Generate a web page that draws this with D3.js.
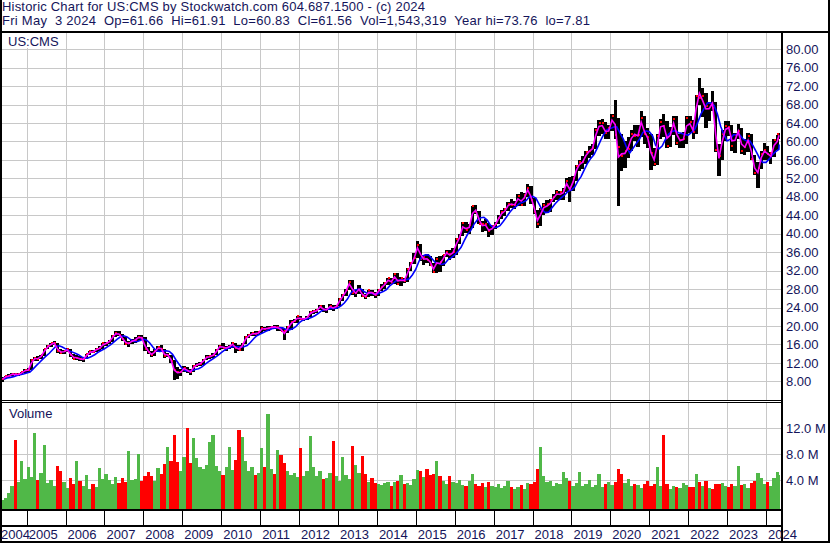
<!DOCTYPE html>
<html>
<head>
<meta charset="utf-8">
<script src="https://cdn.jsdelivr.net/npm/d3@7"></script>
<style>
  html, body { margin: 0; padding: 0; background: #fff; }
  svg { display: block; font-family: Arial, "Liberation Sans", sans-serif; }
</style>
</head>
<body>
<svg id="chart" width="830" height="543"></svg>
<script>
'use strict'

const titleLine = 'Historic Chart for US:CMS by Stockwatch.com 604.687.1500 - (c) 2024'
const infoLine = 'Fri May  3 2024  Op=61.66  Hi=61.91  Lo=60.83  Cl=61.56  Vol=1,543,319  Year hi=73.76  lo=7.81'
const symbol = 'US:CMS'

const priceTicks = [8, 12, 16, 20, 24, 28, 32, 36, 40, 44, 48, 52, 56, 60, 64, 68, 72, 76, 80]
const volumeTicks = [4, 8, 12] // millions
const yearLabels = d3.range(2004, 2025)

const firstDay = new Date(2004, 4, 3)
const lastDay = new Date(2024, 4, 3)

// monthly bars, May 2004 .. May 2024
const highs = [
  9.0, 9.2, 9.5, 9.8, 9.8, 9.7, 10.1, 10.6,
  10.8, 12.9, 13.3, 13.4, 13.8, 15.1, 15.8, 16.4, 16.7, 16.4, 15.0, 14.8,
  15.2, 15.0, 13.9, 13.6, 13.4, 13.2, 14.0, 14.6, 14.8, 15.2, 15.6, 16.4,
  16.6, 17.0, 18.0, 18.8, 19.0, 18.2, 17.5, 16.8, 17.2, 17.5, 18.0, 18.1,
  17.5, 15.4, 14.6, 14.9, 15.7, 15.8, 15.0, 14.2, 13.8, 12.6, 11.0, 10.6,
  11.3, 11.2, 10.6, 11.6, 12.0, 12.2, 12.9, 13.6, 13.7, 14.2, 14.9, 15.9,
  16.2, 15.7, 15.9, 16.6, 16.4, 15.8, 16.3, 17.8, 18.3, 18.6, 18.8, 18.8,
  19.9, 19.8, 19.9, 20.0, 20.3, 20.1, 19.8, 19.4, 20.0, 21.3, 21.6, 22.2,
  22.1, 21.8, 22.1, 23.2, 23.4, 23.6, 24.6, 24.5, 23.9, 24.8, 24.5, 24.6,
  26.0, 27.0, 28.0, 29.9, 29.9, 27.8, 28.9, 28.0, 27.0, 27.9, 27.9, 27.4,
  28.1, 29.0, 29.6, 30.5, 30.4, 31.5, 31.4, 30.6, 30.5, 32.6, 33.9, 35.9,
  38.5, 37.8, 35.3, 35.7, 35.2, 33.6, 35.0, 35.1, 35.4, 36.5, 36.4, 36.8,
  39.1, 40.0, 42.5, 42.5, 42.2, 45.9, 46.2, 44.9, 42.8, 43.1, 42.3, 41.8,
  42.6, 44.1, 45.2, 45.5, 46.9, 47.6, 47.1, 48.5, 49.0, 48.9, 50.7, 50.3,
  47.7, 45.2, 45.5, 46.6, 47.2, 47.6, 48.5, 49.5, 49.3, 49.8, 52.1, 52.3,
  52.4, 54.9, 56.0, 56.9, 58.0, 59.0, 59.5, 63.0, 64.6, 64.9, 64.2, 63.5,
  66.0, 69.0, 65.0, 61.5, 60.0, 61.0, 62.5, 63.5, 63.5, 66.6, 65.5, 62.8,
  61.5, 58.5, 61.5, 64.8, 65.9, 64.5, 63.2, 65.6, 65.6, 61.5, 62.0, 65.5,
  65.5, 64.6, 70.0, 73.8, 71.5, 70.5, 68.5, 71.0, 68.5, 59.5, 62.5, 64.5,
  64.5, 63.5, 61.8, 63.8, 63.0, 60.5, 61.8, 61.5, 57.0, 55.5, 57.9, 59.6,
  58.9, 57.8, 60.5, 61.3, 61.9
]

const lows = [
  7.81, 8.5, 8.8, 9.1, 9.3, 9.2, 9.4, 9.9,
  10.0, 10.4, 12.4, 12.5, 12.8, 13.5, 14.9, 15.4, 15.8, 14.1, 13.9, 13.9,
  14.3, 13.3, 12.9, 12.6, 12.4, 12.2, 12.8, 13.7, 14.1, 14.3, 14.6, 15.0,
  15.7, 16.0, 16.6, 17.6, 17.8, 16.8, 15.9, 15.4, 16.1, 16.4, 16.8, 16.9,
  14.6, 13.9, 13.3, 13.4, 14.4, 14.6, 13.1, 13.2, 11.9, 8.3, 8.6, 9.2,
  10.1, 9.9, 9.3, 10.0, 11.0, 11.4, 11.5, 12.6, 12.9, 13.0, 13.6, 14.8,
  14.9, 14.6, 15.0, 15.3, 14.2, 14.5, 14.6, 16.0, 17.3, 17.8, 17.9, 18.0,
  18.5, 19.0, 18.9, 19.3, 19.4, 19.0, 18.9, 16.9, 18.4, 19.2, 20.6, 20.7,
  21.2, 21.0, 21.3, 21.9, 22.6, 22.8, 23.4, 23.1, 22.9, 23.5, 23.2, 23.6,
  24.4, 25.5, 26.6, 27.8, 26.8, 26.3, 27.0, 26.2, 25.9, 26.2, 26.6, 26.0,
  26.5, 27.5, 28.1, 28.9, 29.0, 29.2, 28.9, 28.7, 29.3, 29.5, 32.0, 33.4,
  34.7, 34.1, 33.3, 33.7, 33.1, 31.5, 31.5, 31.6, 33.1, 34.9, 34.2, 34.7,
  35.4, 37.8, 39.5, 40.1, 40.0, 41.3, 44.3, 42.1, 40.4, 40.5, 39.3, 39.8,
  41.0, 42.0, 43.2, 43.8, 44.9, 45.5, 45.4, 46.0, 45.9, 46.0, 48.0, 46.4,
  44.3, 41.3, 41.6, 44.1, 44.4, 44.8, 46.8, 47.3, 47.2, 47.3, 49.1, 46.8,
  49.2, 51.5, 53.5, 54.0, 55.0, 56.5, 57.0, 58.4, 61.2, 61.5, 60.5, 60.5,
  62.3, 60.5, 46.0, 53.5, 54.2, 56.5, 58.0, 60.0, 58.7, 61.0, 59.5, 58.5,
  53.7, 54.6, 54.8, 60.5, 61.0, 58.5, 58.8, 61.4, 59.3, 58.6, 58.6, 59.5,
  61.8, 60.6, 61.5, 68.0, 65.2, 63.0, 64.4, 66.5, 57.8, 52.6, 56.0, 60.0,
  61.2, 58.0, 57.5, 60.5, 57.3, 57.0, 57.8, 56.0, 52.7, 49.9, 54.0, 56.0,
  55.9, 55.1, 56.6, 58.1, 60.6
]

const closes = [
  8.6, 9.1, 9.2, 9.6, 9.5, 9.5, 10.0, 10.4,
  10.5, 12.7, 13.0, 12.9, 13.6, 15.0, 15.6, 16.2, 16.4, 14.6, 14.2, 14.5,
  14.9, 13.6, 12.9, 13.1, 12.8, 12.9, 13.9, 14.5, 14.4, 15.0, 15.2, 16.2,
  16.3, 16.8, 17.8, 18.5, 18.0, 17.2, 16.1, 16.3, 16.8, 17.0, 17.7, 17.4,
  15.0, 14.4, 13.6, 14.6, 15.4, 14.9, 13.5, 13.7, 12.5, 10.4, 10.1, 10.1,
  10.9, 10.2, 10.0, 11.4, 11.6, 11.8, 12.7, 13.3, 13.4, 13.7, 14.8, 15.7,
  15.2, 15.3, 15.5, 16.2, 15.3, 14.7, 16.1, 17.5, 18.0, 18.4, 18.3, 18.6,
  19.6, 19.4, 19.6, 19.8, 19.7, 19.7, 19.0, 18.9, 19.8, 20.9, 21.0, 22.1,
  21.6, 21.6, 22.0, 23.0, 23.2, 23.5, 24.4, 23.4, 23.6, 24.3, 24.0, 24.4,
  25.8, 26.7, 27.9, 29.6, 27.2, 27.2, 27.9, 26.5, 26.3, 27.7, 27.2, 26.8,
  27.9, 28.5, 29.3, 30.3, 29.4, 31.2, 29.0, 30.4, 29.7, 32.3, 33.6, 34.8,
  37.6, 34.6, 34.9, 34.3, 33.3, 31.8, 34.5, 33.8, 35.3, 36.1, 35.5, 36.1,
  38.8, 39.6, 42.4, 40.7, 41.9, 45.9, 44.8, 42.2, 42.0, 42.0, 40.6, 41.6,
  42.2, 43.5, 44.7, 45.4, 46.5, 46.2, 46.2, 48.1, 46.3, 48.4, 49.9, 47.3,
  44.8, 42.1, 45.3, 46.3, 46.4, 47.3, 48.0, 49.0, 49.0, 49.5, 51.4, 49.7,
  52.1, 54.6, 55.5, 55.6, 57.8, 58.0, 58.6, 62.4, 63.9, 63.9, 61.8, 62.8,
  65.5, 61.4, 58.8, 56.9, 58.0, 58.4, 61.5, 61.2, 61.4, 65.0, 61.5, 61.0,
  57.5, 55.0, 61.2, 64.2, 63.3, 59.1, 62.0, 64.8, 59.7, 60.4, 60.6, 65.1,
  64.2, 62.0, 69.9, 69.5, 69.8, 67.6, 68.4, 67.3, 58.2, 56.9, 61.5, 63.3,
  63.2, 58.9, 61.4, 62.3, 57.9, 58.7, 61.1, 56.2, 53.1, 54.3, 57.3, 58.1,
  57.2, 57.4, 60.3, 60.6, 61.56
]

// volume in millions of shares
const volumes = [
  1.0, 1.3, 2.0, 3.2, 10.2, 3.8, 7.0, 4.2,
  6.1, 4.5, 11.3, 4.0, 5.2, 9.4, 3.6, 4.0, 3.1, 6.2, 5.4, 3.8,
  2.8, 4.4, 3.5, 7.0, 3.9, 3.2, 4.8, 2.6, 3.5, 3.0, 5.9, 4.2,
  5.0, 4.1, 3.4, 4.5, 3.6, 4.3, 3.8, 8.5, 4.0, 4.2, 8.0, 3.9,
  4.7, 5.3, 4.6, 3.9, 5.9, 5.0, 6.5, 9.2, 7.0, 10.9, 6.8, 5.5,
  7.6, 12.0, 6.7, 10.5, 7.5, 6.0, 5.8, 6.4, 9.9, 10.9, 6.2, 5.5,
  4.8, 6.0, 9.2, 5.6, 7.2, 11.7, 10.7, 7.0, 5.5, 6.0, 4.8, 5.2,
  8.9, 6.0, 14.2, 5.8, 5.0, 8.7, 7.9, 6.6, 5.4, 4.8, 5.2, 4.5,
  9.0, 4.6, 5.5, 10.8, 6.0, 4.7, 5.5, 4.2, 4.4, 5.1, 10.0, 4.6,
  3.9, 7.6, 4.8, 4.2, 9.3, 6.4, 5.2, 7.7, 4.9, 3.8, 4.3, 3.6,
  3.5, 3.3, 3.6, 3.8, 3.2, 3.7, 3.9, 4.8, 3.4, 3.6, 3.3, 4.2,
  5.6, 5.4, 4.5, 5.7, 4.8, 5.0, 6.9, 4.6, 3.9, 3.5, 4.7, 3.8,
  3.6, 4.1, 3.3, 3.2, 3.9, 5.0, 3.4, 3.1, 3.6, 3.0, 3.7, 3.2,
  3.0, 3.5, 2.8, 3.1, 3.9, 3.0, 2.6, 2.9, 3.3, 2.7, 3.6, 3.4,
  3.8, 5.7, 9.2, 4.6, 3.7, 3.9, 3.2, 3.6, 3.4, 5.3, 4.4, 3.9,
  3.1, 3.6, 5.3, 3.2, 3.5, 4.1, 3.0, 3.3, 5.0, 2.9, 3.4, 3.7,
  3.3, 3.8, 5.7, 5.0, 3.6, 4.2, 3.1, 3.5, 3.3, 2.8, 3.4, 3.9,
  3.1, 3.4, 6.0, 3.2, 11.0, 3.5, 2.7, 3.1, 3.0, 2.8, 3.6, 3.3,
  3.0, 2.9, 5.0, 3.8, 3.2, 3.9, 2.8, 2.7, 3.4, 3.5, 3.6, 3.2,
  2.9, 3.4, 3.1, 6.2, 3.3, 3.5, 2.8, 3.6, 3.9, 5.1, 4.4, 3.5,
  3.7, 3.2, 4.4, 5.3, 4.8
]

const ink = '#14145a'
const gridColor = '#c8c8c8'

const svg = d3.select('#chart')
const W = 830, H = 543
const plot = { left: 2, right: 781 }
const pricePanel = { top: 33, bottom: 400 }
const volPanel = { top: 403, bottom: 509 }

const x = d3.scaleTime()
  .domain([new Date(2005, 0, 1), new Date(2024, 0, 1)])
  .range([26.7, 766])

const yP = d3.scaleLinear().domain([3.95, 83.5]).range([pricePanel.bottom, pricePanel.top])
const yV = d3.scaleLinear().domain([0, 12e6]).range([506.3, 428.3])

const bars = highs.map((h, i) => {
  const start = i === 0 ? firstDay : new Date(2004, 4 + i, 1)
  const end = i === highs.length - 1 ? lastDay : new Date(2004, 5 + i, 1)
  const tp = (h + lows[i] + closes[i]) / 3
  return {
    start, end,
    mid: new Date((+start + +end) / 2),
    high: h, low: lows[i], close: closes[i], tp,
    vol: volumes[i] * 1e6,
    up: i === 0 ? true : closes[i] >= closes[i - 1]
  }
})
// slow average over 4 months of typical price
bars.forEach((b, i) => {
  b.slow = d3.mean(bars.slice(Math.max(0, i - 3), i + 1), d => d.tp)
})

svg.append('rect').attr('width', W).attr('height', H).attr('fill', '#fff')

// header
svg.append('text')
  .attr('x', 2).attr('y', 11)
  .attr('font-size', 13).attr('fill', ink)
  .attr('textLength', 423).attr('lengthAdjust', 'spacing')
  .style('white-space', 'pre')
  .text(titleLine)
svg.append('text')
  .attr('x', 2).attr('y', 25)
  .attr('font-size', 13).attr('fill', ink)
  .attr('textLength', 588).attr('lengthAdjust', 'spacing')
  .style('white-space', 'pre')
  .text(infoLine)

const years = x.ticks(d3.timeYear.every(1))

// grid
const grid = svg.append('g').attr('shape-rendering', 'crispEdges').attr('stroke', gridColor)
grid.selectAll('.vgp').data(years).enter().append('line')
  .attr('x1', d => Math.round(x(d)) + 0.5).attr('x2', d => Math.round(x(d)) + 0.5)
  .attr('y1', pricePanel.top).attr('y2', pricePanel.bottom)
grid.selectAll('.vgv').data(years).enter().append('line')
  .attr('x1', d => Math.round(x(d)) + 0.5).attr('x2', d => Math.round(x(d)) + 0.5)
  .attr('y1', volPanel.top).attr('y2', volPanel.bottom)
grid.selectAll('.hgp').data(priceTicks).enter().append('line')
  .attr('x1', plot.left).attr('x2', plot.right)
  .attr('y1', d => Math.round(yP(d)) + 0.5).attr('y2', d => Math.round(yP(d)) + 0.5)
grid.selectAll('.hgv').data(volumeTicks).enter().append('line')
  .attr('x1', plot.left).attr('x2', plot.right)
  .attr('y1', d => Math.round(yV(d * 1e6)) + 0.5).attr('y2', d => Math.round(yV(d * 1e6)) + 0.5)

// price bars
const pg = svg.append('g').attr('shape-rendering', 'crispEdges')
pg.selectAll('.bar').data(bars).enter().append('rect')
  .attr('x', d => x(d.start))
  .attr('width', d => Math.max(1, x(d.end) - x(d.start)))
  .attr('y', d => yP(d.high))
  .attr('height', d => yP(d.low) - yP(d.high))
  .attr('fill', '#000')

svg.append('path')
  .datum(bars)
  .attr('fill', 'none').attr('stroke', '#0000ff').attr('stroke-width', 1.6)
  .attr('d', d3.line().x(d => x(d.end)).y(d => yP(d.slow)))
svg.append('path')
  .datum(bars)
  .attr('fill', 'none').attr('stroke', '#ff00ff').attr('stroke-width', 1.6)
  .attr('d', d3.line().x(d => x(d.mid)).y(d => yP(d.tp)))

pg.selectAll('.cl').data(bars).enter().append('rect')
  .attr('x', d => x(d.end) - 2)
  .attr('width', 2)
  .attr('y', d => yP(d.close) - 1)
  .attr('height', 2)
  .attr('fill', '#ff0000')

// volume bars
svg.append('g').attr('shape-rendering', 'crispEdges')
  .selectAll('rect').data(bars).enter().append('rect')
  .attr('x', d => x(d.start))
  .attr('width', d => Math.max(1, x(d.end) - x(d.start)))
  .attr('y', d => yV(d.vol))
  .attr('height', d => volPanel.bottom - yV(d.vol))
  .attr('fill', d => d.up ? '#50b848' : '#ff0000')

// panel labels
svg.append('rect').attr('x', 2).attr('y', 33).attr('width', 62).attr('height', 15).attr('fill', '#fff')
svg.append('text').attr('x', 8).attr('y', 46).attr('font-size', 13).attr('fill', ink).text(symbol)
svg.append('text').attr('x', 9).attr('y', 418).attr('font-size', 13).attr('fill', ink).text('Volume')

// right axes
const pAxis = svg.append('g')
  .attr('transform', 'translate(' + plot.right + ',0)')
  .call(d3.axisRight(yP).tickValues(priceTicks).tickSize(0).tickPadding(5).tickFormat(d3.format('.2f')))
const vAxis = svg.append('g')
  .attr('transform', 'translate(' + plot.right + ',0)')
  .call(d3.axisRight(yV).tickValues(volumeTicks.map(v => v * 1e6)).tickSize(0).tickPadding(5)
    .tickFormat(d => (d / 1e6).toFixed(1) + ' M'))
;[pAxis, vAxis].forEach(a => {
  a.select('.domain').remove()
  a.selectAll('text').attr('font-size', 13).attr('font-family', 'Arial, "Liberation Sans", sans-serif').attr('fill', ink)
})

// frame lines
const frame = svg.append('g').attr('shape-rendering', 'crispEdges').attr('fill', '#000')
frame.append('rect').attr('x', 0).attr('y', 31).attr('width', W).attr('height', 2)
frame.append('rect').attr('x', 0).attr('y', 400).attr('width', plot.right).attr('height', 1)
frame.append('rect').attr('x', 0).attr('y', 402).attr('width', plot.right).attr('height', 1)
frame.append('rect').attr('x', 0).attr('y', 509).attr('width', plot.right).attr('height', 2)
frame.append('rect').attr('x', 0).attr('y', 525).attr('width', plot.right).attr('height', 2)
frame.append('rect').attr('x', plot.right).attr('y', 31).attr('width', 2).attr('height', H - 31)
frame.append('rect').attr('x', 0).attr('y', 0).attr('width', 2).attr('height', H)
frame.append('rect').attr('x', W - 2).attr('y', 0).attr('width', 2).attr('height', H)
frame.append('rect').attr('x', 0).attr('y', H - 2).attr('width', W).attr('height', 2)
frame.selectAll('.tk').data(years).enter().append('rect')
  .attr('x', d => Math.round(x(d))).attr('y', 511).attr('width', 1).attr('height', 14)

// year labels
svg.append('g').selectAll('text').data(yearLabels).enter().append('text')
  .attr('x', d => Math.max(1, x(new Date(d, 0, 1)) + 2))
  .attr('y', 539)
  .attr('font-size', 13).attr('fill', ink)
  .text(d => d)
</script>
</body>
</html>
